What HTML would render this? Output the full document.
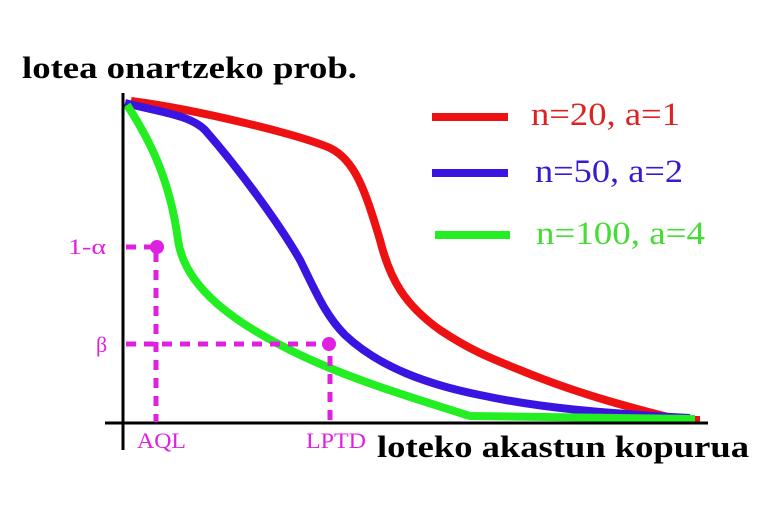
<!DOCTYPE html>
<html><head><meta charset="utf-8"><style>html,body{margin:0;padding:0;background:#fff}svg{display:block}</style></head>
<body>
<svg width="768" height="512" viewBox="0 0 768 512" xmlns="http://www.w3.org/2000/svg" font-family="Liberation Serif, serif">
<rect width="768" height="512" fill="#fff"/>
<text x="22" y="78" font-size="31" font-weight="bold" textLength="335" lengthAdjust="spacingAndGlyphs">lotea onartzeko prob.</text>
<text x="377" y="457" font-size="31" font-weight="bold" textLength="372" lengthAdjust="spacingAndGlyphs">loteko akastun kopurua</text>
<g fill="none" stroke-linecap="butt" stroke-linejoin="round">
<path d="M131,101 C200,110 300,135 330,148 C355,160 365,190 380,240 C390,280 405,305 440,330 C470,350 490,358 520,370 C580,395 640,410 680,420 L700,420" stroke="#ee1111" stroke-width="8"/>
<path d="M125,103 C160,112 190,115 205,130 C240,170 280,225 300,260 C315,290 325,315 345,335 C380,368 430,385 480,395 C540,408 600,413 690,418" stroke="#3a14e0" stroke-width="8"/>
<path d="M127,105 C150,140 170,180 178,240 C185,290 240,325 290,350 C350,380 420,400 470,416 L695,419" stroke="#22ee22" stroke-width="8"/>
</g>
<line x1="123" y1="93" x2="123" y2="450" stroke="#000" stroke-width="3"/>
<line x1="105" y1="423" x2="708" y2="423" stroke="#000" stroke-width="3"/>
<g stroke="#e020e0" stroke-width="5" stroke-dasharray="10,8" fill="none">
<line x1="126" y1="247" x2="157" y2="247"/>
<line x1="156" y1="252" x2="156" y2="422"/>
<line x1="126" y1="344" x2="330" y2="344"/>
<line x1="330" y1="356" x2="330" y2="422"/>
</g>
<g fill="#e020e0"><circle cx="157" cy="247" r="7"/><circle cx="329" cy="344" r="7"/></g>
<g fill="#e020e0" font-size="22">
<text x="68" y="254" textLength="38" lengthAdjust="spacingAndGlyphs">1-α</text>
<text x="96" y="352">β</text>
<text x="137" y="448" textLength="49" lengthAdjust="spacingAndGlyphs">AQL</text>
<text x="306" y="448" textLength="60" lengthAdjust="spacingAndGlyphs">LPTD</text>
</g>
<line x1="432" y1="117" x2="508" y2="117" stroke="#ee1111" stroke-width="8"/>
<line x1="432" y1="173" x2="508" y2="173" stroke="#3a14e0" stroke-width="8"/>
<line x1="435" y1="235" x2="510" y2="235" stroke="#22ee22" stroke-width="8"/>
<g font-size="33">
<text x="531" y="125" fill="#dd2222" textLength="149" lengthAdjust="spacingAndGlyphs">n=20, a=1</text>
<text x="535" y="182" fill="#3a1ad0" textLength="148" lengthAdjust="spacingAndGlyphs">n=50, a=2</text>
<text x="536" y="244" fill="#44dd33" textLength="169" lengthAdjust="spacingAndGlyphs">n=100, a=4</text>
</g>
</svg>
</body></html>
